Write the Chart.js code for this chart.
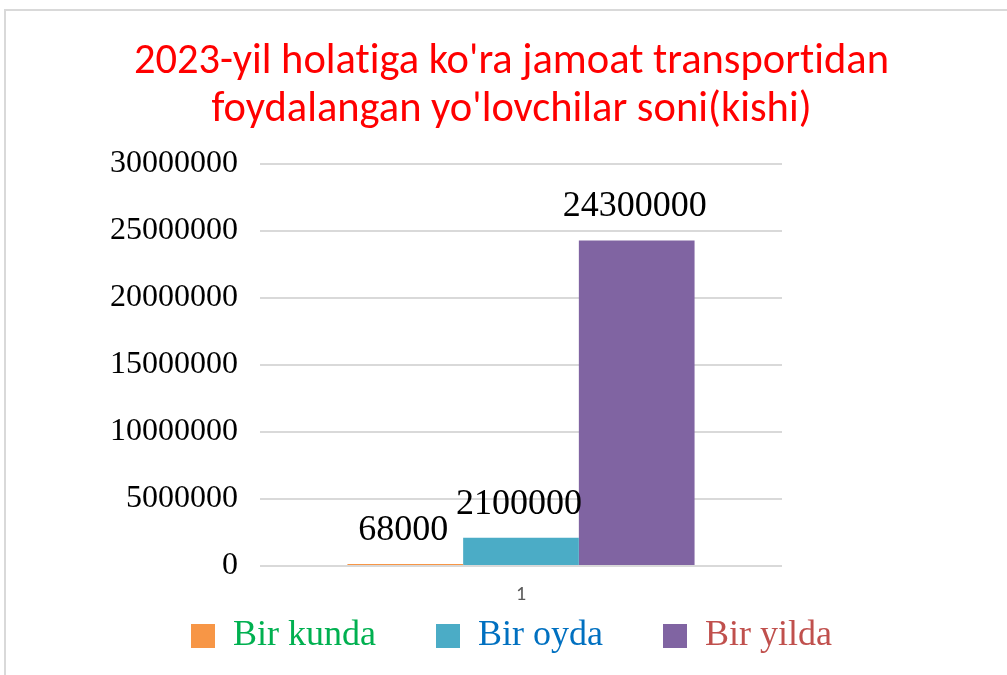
<!DOCTYPE html>
<html><head><meta charset="utf-8">
<script src="https://cdn.jsdelivr.net/npm/chart.js@4"></script>
<style>html,body{margin:0;padding:0;background:#fff;overflow:hidden}canvas{display:block}</style>
</head><body>
<canvas id="c" width="1007" height="675"></canvas>
<script>
const titleLines = ["2023-yil holatiga ko'ra jamoat transportidan", "foydalangan yo'lovchilar soni(kishi)"];
const categories = ["1"];
const seriesNames = ["Bir kunda", "Bir oyda", "Bir yilda"];
const birKunda = [68000];
const birOyda = [2100000];
const birYilda = [24300000];
const yTickValues = [0, 5000000, 10000000, 15000000, 20000000, 25000000, 30000000];
const barColors = ["#F79646", "#4BACC6", "#8064A2"];
const legendTextColors = ["#00B050", "#0070C0", "#C0504D"];

const seriesValues = [birKunda, birOyda, birYilda];
const LEGEND_GAP = "     ";

const frame = {
  id: 'frame',
  beforeDraw(chart) {
    const ctx = chart.ctx;
    try { ctx.textRendering = 'optimizeSpeed'; } catch (e) {}
    ctx.save();
    ctx.fillStyle = '#fff';
    ctx.fillRect(0, 0, chart.width, chart.height);
    ctx.strokeStyle = '#D9D9D9';
    ctx.lineWidth = 2;
    ctx.beginPath();
    ctx.moveTo(5, chart.height); ctx.lineTo(5, 10); ctx.lineTo(chart.width, 10);
    ctx.stroke();
    ctx.restore();
  }
};

const dataLabels = {
  id: 'dataLabels',
  afterDatasetsDraw(chart) {
    const ctx = chart.ctx;
    ctx.save();
    ctx.font = '36px "Liberation Serif"';
    ctx.fillStyle = '#000';
    ctx.textAlign = 'center';
    ctx.textBaseline = 'alphabetic';
    chart.data.datasets.forEach((ds, i) => {
      const meta = chart.getDatasetMeta(i);
      meta.data.forEach((bar, j) => {
        ctx.fillText(String(ds.data[j]), bar.x - 2, bar.base - (bar.base - bar.y) - 24);
      });
    });
    ctx.restore();
  }
};

new Chart(document.getElementById('c'), {
  type: 'bar',
  data: {
    labels: categories,
    datasets: seriesNames.map((name, i) => ({
      label: name,
      data: seriesValues[i],
      backgroundColor: barColors[i],
      borderWidth: 0,
      minBarLength: 2,
      barPercentage: 1,
      categoryPercentage: 0.665
    }))
  },
  options: {
    responsive: false,
    animation: false,
    devicePixelRatio: 1,
    layout: { padding: { left: 16, right: 0, top: 38, bottom: 11 } },
    plugins: {
      title: {
        display: true,
        text: titleLines,
        color: '#FF0000',
        font: { family: 'Carlito, "Liberation Sans"', size: 42.5, weight: 'normal', lineHeight: 1.13 },
        padding: { top: 0, bottom: 30 }
      },
      legend: {
        position: 'bottom',
        labels: {
          font: { family: '"Liberation Serif"', size: 36 },
          boxWidth: 24,
          boxHeight: 24,
          padding: 15,
          generateLabels(chart) {
            const n = chart.data.datasets.length;
            return chart.data.datasets.map((ds, i) => ({
              text: i < n - 1 ? ds.label + LEGEND_GAP : ds.label,
              fillStyle: barColors[i],
              strokeStyle: barColors[i],
              lineWidth: 0,
              fontColor: legendTextColors[i],
              datasetIndex: i,
              hidden: false
            }));
          }
        }
      },
      tooltip: { enabled: false }
    },
    scales: {
      x: {
        grid: { display: false, drawTicks: false },
        border: { display: false },
        ticks: { color: '#595959', font: { family: 'Carlito, "Liberation Sans"', size: 20 }, padding: 17 },
        afterFit(scale) { scale.height = 37; }
      },
      y: {
        min: yTickValues[0],
        max: yTickValues[yTickValues.length - 1],
        afterBuildTicks(scale) { scale.ticks = yTickValues.map(v => ({ value: v })); },
        afterFit(scale) { scale.width = 260 - 16; },
        grid: { color: '#D9D9D9', lineWidth: 2, drawTicks: false },
        border: { display: false },
        ticks: {
          color: '#000',
          font: { family: '"Liberation Serif"', size: 32 },
          padding: 22,
          callback: v => String(v)
        }
      },
      yRight: {
        position: 'right',
        display: true,
        grid: { display: false, drawTicks: false },
        border: { display: false },
        ticks: { display: false },
        afterFit(scale) { scale.width = 1007 - 782; }
      }
    }
  },
  plugins: [frame, dataLabels]
});
</script>
</body></html>
